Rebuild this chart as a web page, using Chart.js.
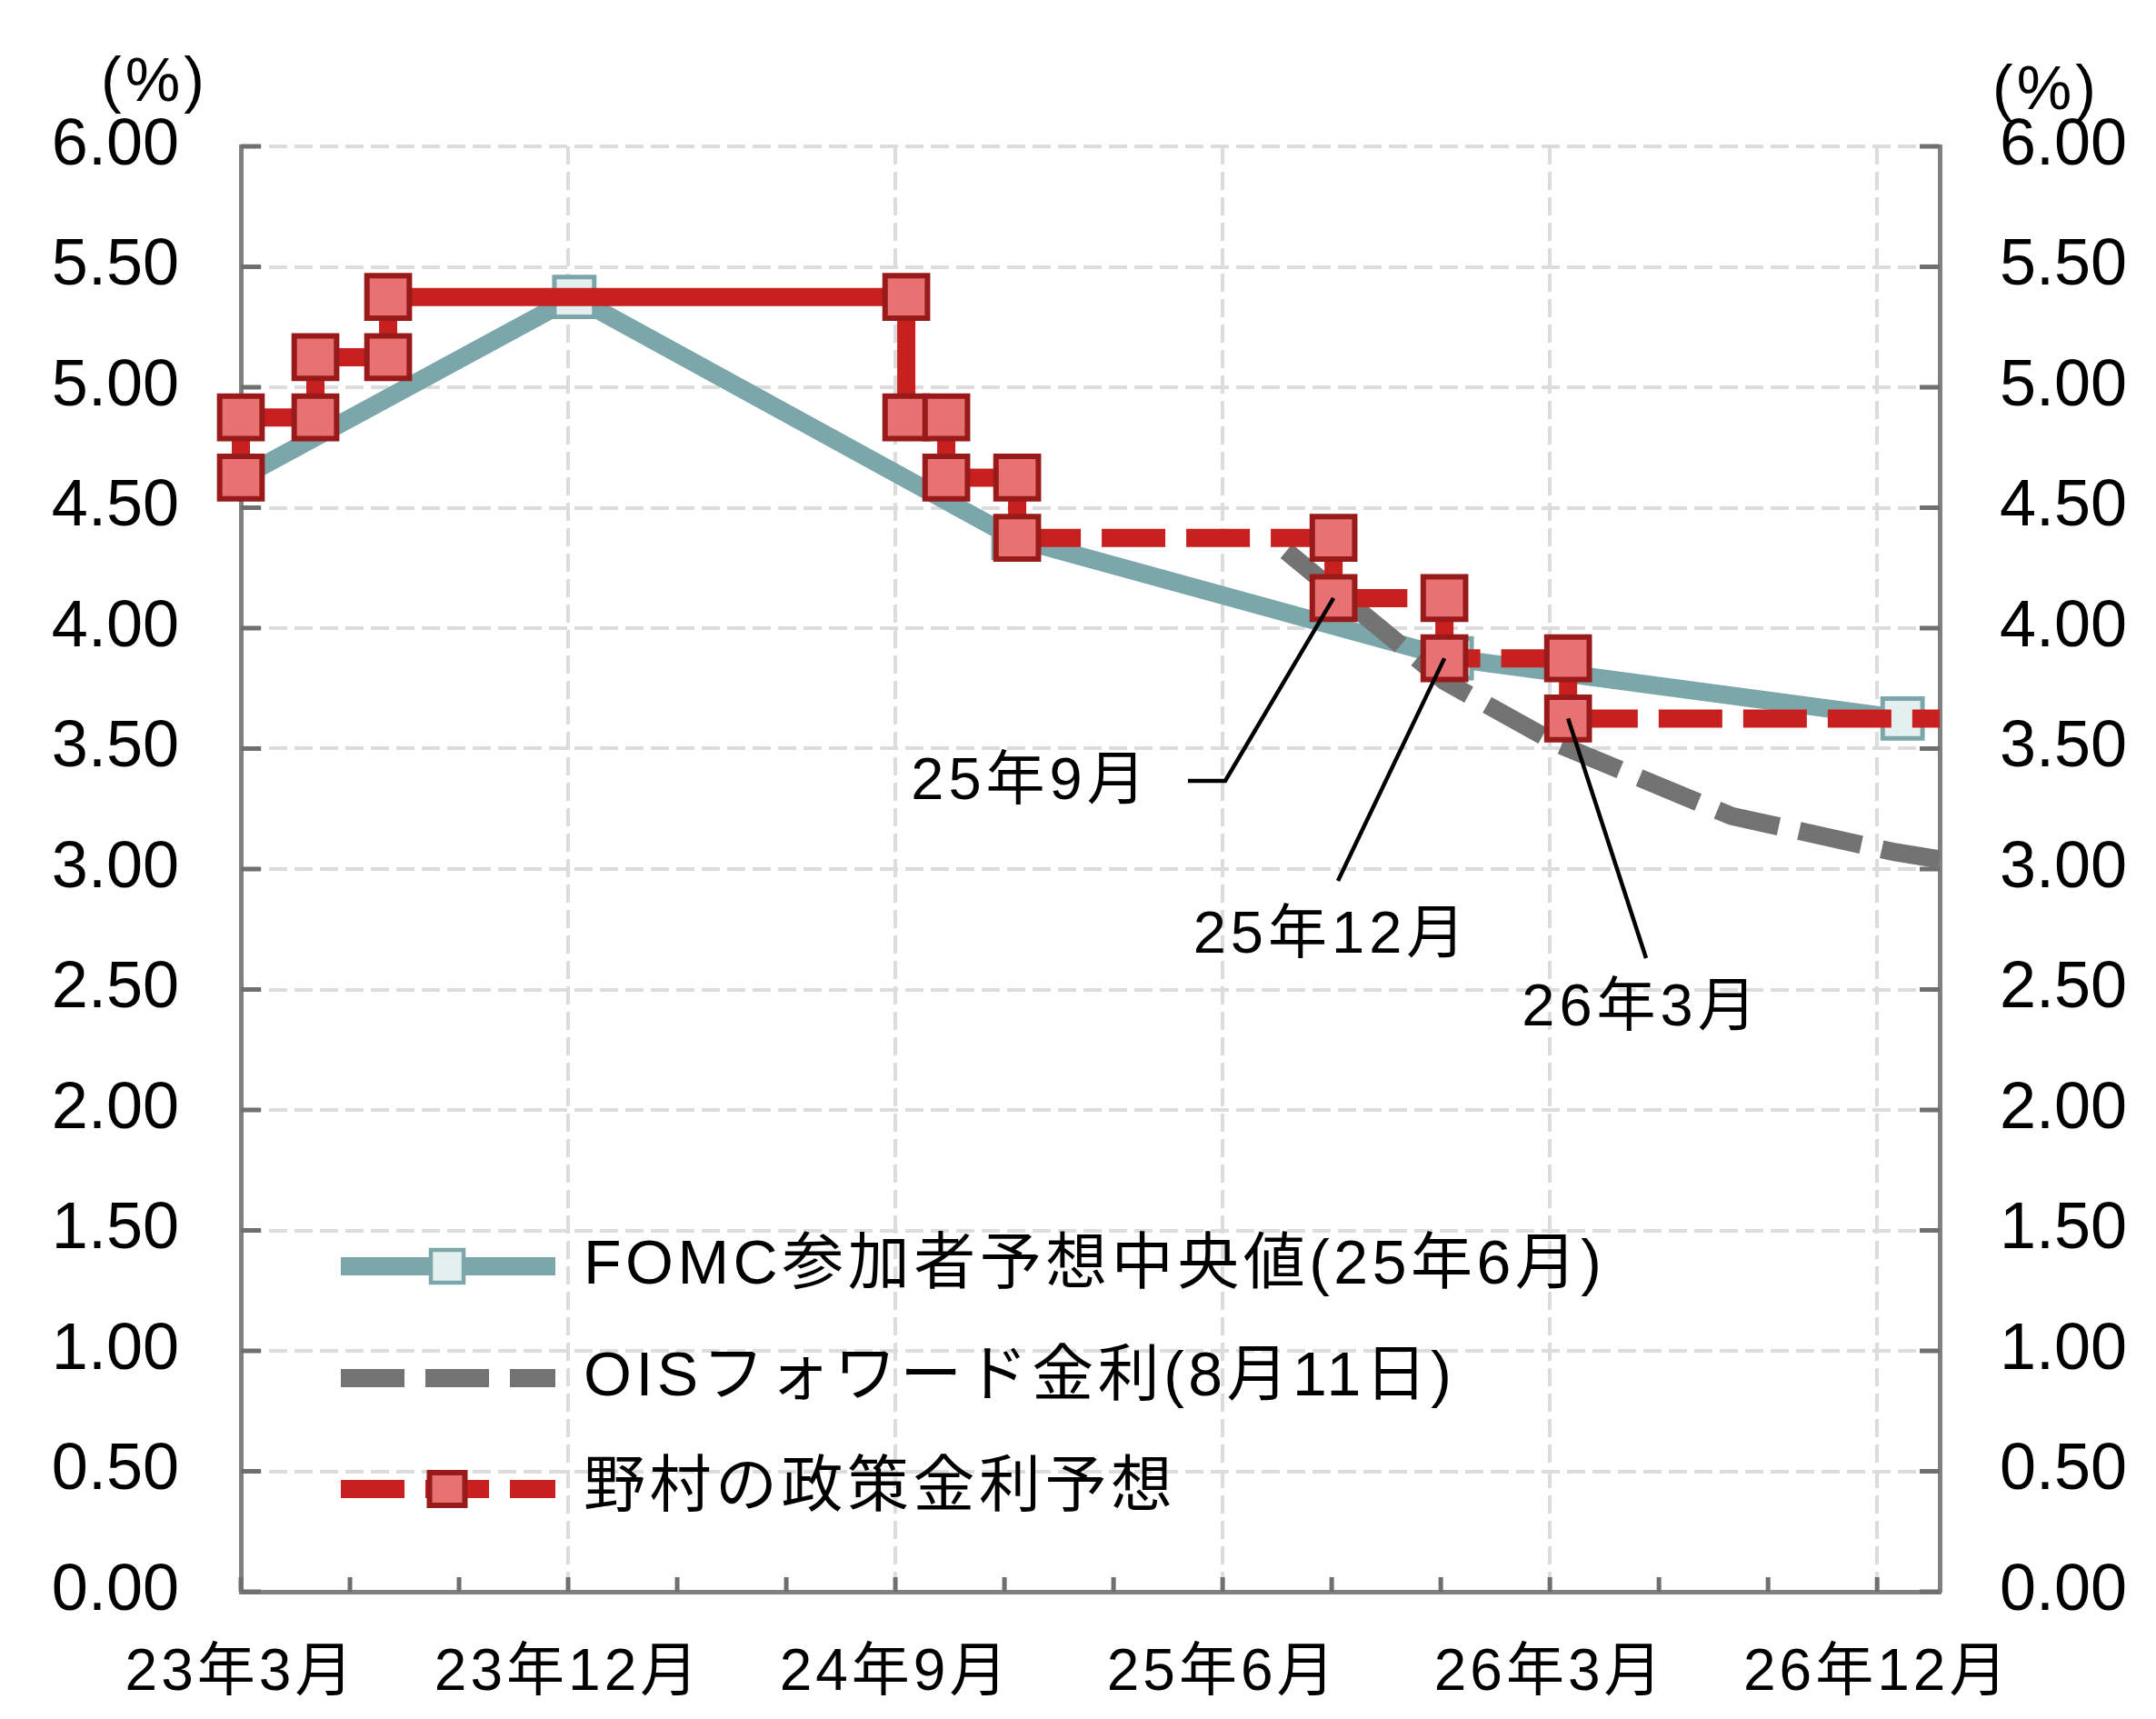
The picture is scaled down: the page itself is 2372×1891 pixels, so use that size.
<!DOCTYPE html>
<html lang="ja">
<head>
<meta charset="utf-8">
<title>FF金利の見通し</title>
<script src="https://cdn.jsdelivr.net/npm/chart.js@4/dist/chart.umd.min.js"></script>
<style>
  html, body { margin: 0; padding: 0; background: #fff; }
  #wrap { width: 2372px; height: 1891px; }
</style>
</head>
<body>
<div id="wrap"><canvas id="rateChart" width="2372" height="1891"></canvas></div>
<script>
// 横軸は 23年3月 = 0 とした月数
const xTickLabels = ["23年3月", "23年12月", "24年9月", "25年6月", "26年3月", "26年12月"];
const xMax = 46.72;

const fomcLabel = "FOMC参加者予想中央値(25年6月)";
const fomcX = [0, 9.17, 21.25, 33.3, 45.7];
const fomcY = [4.625, 5.375, 4.375, 3.875, 3.625];

const oisLabel = "OISフォワード金利(8月11日)";
const oisX = [28.75, 33.1, 36.2, 41.0, 45.5, 46.72];
const oisY = [4.32, 3.78, 3.52, 3.22, 3.07, 3.04];

const nomuraLabel = "野村の政策金利予想";
const nomuraX = [0, 0, 2.05, 2.05, 4.05, 4.05, 18.3, 18.3, 19.4, 19.4, 21.35, 21.35,
                 30.05, 30.05, 33.1, 33.1, 36.5, 36.5, 46.72];
const nomuraY = [4.625, 4.875, 4.875, 5.125, 5.125, 5.375, 5.375, 4.875, 4.875, 4.625, 4.625, 4.375,
                 4.375, 4.125, 4.125, 3.875, 3.875, 3.625, 3.625];
const nomuraForecastFrom = 11; // ここから先は予想 (破線)

// 吹き出し
const calloutLabels = ["25年9月", "25年12月", "26年3月"];
const calloutIndex = [13, 15, 17];

const FONT = "'Liberation Sans', 'Noto Sans CJK JP', sans-serif";
const TEAL = "#7ba6aa";
const RED = "#c8201f";
const GRAY = "#737373";
const DASH = [70, 23];

function toPoints(xs, ys) {
    return xs.map((x, i) => ({ x: x, y: ys[i] }));
}

// 軸の内向き目盛り、単位、凡例、吹き出し
const overlay = {
    id: "overlay",
    beforeDraw(chart) {
        chart.ctx.letterSpacing = "0px";
    },
    beforeDatasetsDraw(chart) {
        const ctx = chart.ctx;
        const a = chart.chartArea;
        const sx = chart.scales.x, sy = chart.scales.y;
        ctx.save();
        ctx.strokeStyle = "#6f6f6f";
        ctx.lineWidth = 5;
        ctx.beginPath();
        sy.ticks.forEach(t => {
            const y = sy.getPixelForValue(t.value);
            ctx.moveTo(a.left, y); ctx.lineTo(a.left + 22, y);
            ctx.moveTo(a.right, y); ctx.lineTo(a.right - 22, y);
        });
        sx.ticks.forEach(t => {
            const x = sx.getPixelForValue(t.value);
            ctx.moveTo(x, a.bottom); ctx.lineTo(x, a.bottom - 16);
        });
        ctx.stroke();
        ctx.restore();
    },
    afterDatasetsDraw(chart) {
        // x軸の目盛り文字 (ticks.z = 1) に字間をつける
        chart.ctx.letterSpacing = "4px";
    },
    afterDraw(chart) {
        const ctx = chart.ctx;
        const sx = chart.scales.x, sy = chart.scales.y;
        ctx.save();
        ctx.letterSpacing = "4px";
        ctx.fillStyle = "#000";
        ctx.textAlign = "center";
        ctx.textBaseline = "middle";

        // 単位
        ctx.font = "68px " + FONT;
        ctx.fillText("(%)", 170, 92);
        ctx.fillText("(%)", 2251, 101);

        // 凡例
        const rows = [1393, 1516, 1638];
        chart.data.datasets.forEach((ds, i) => {
            const y = rows[i];
            ctx.save();
            ctx.lineWidth = ds.borderWidth;
            ctx.strokeStyle = ds.borderColor;
            ctx.lineCap = "butt";
            ctx.setLineDash(ds.legendDash);
            ctx.beginPath();
            ctx.moveTo(375, y); ctx.lineTo(611, y);
            ctx.stroke();
            ctx.setLineDash([]);
            if (ds.legendMarker) {
                const s = ds.legendMarker;
                ctx.fillStyle = ds.pointBackgroundColor;
                ctx.strokeStyle = ds.pointBorderColor;
                ctx.lineWidth = s.border;
                ctx.beginPath();
                ctx.rect(492 - s.w / 2, y - s.h / 2, s.w, s.h);
                ctx.fill();
                ctx.stroke();
            }
            ctx.restore();
            ctx.textAlign = "left";
            ctx.letterSpacing = "4.5px";
            ctx.font = "68px " + FONT;
            ctx.fillText(ds.label, 642, y);
        });

        // 吹き出し
        const textPos = [[1134, 861], [1465, 1030], [1806, 1110]];
        const leaders = [[[1307, 859], [1348, 859]], [[1472, 969]], [[1811, 1054]]];
        ctx.strokeStyle = "#000";
        ctx.lineWidth = 4.5;
        ctx.letterSpacing = "5px";
        calloutIndex.forEach((idx, i) => {
            const mx = sx.getPixelForValue(nomuraX[idx]);
            const my = sy.getPixelForValue(nomuraY[idx]);
            const pts = leaders[i];
            ctx.beginPath();
            ctx.moveTo(pts[0][0], pts[0][1]);
            for (let k = 1; k < pts.length; k++) ctx.lineTo(pts[k][0], pts[k][1]);
            ctx.lineTo(mx, my);
            ctx.stroke();
            ctx.textAlign = "center";
            ctx.font = "65px " + FONT;
            ctx.fillText(calloutLabels[i], textPos[i][0], textPos[i][1]);
        });
        ctx.restore();
        ctx.letterSpacing = "0px";
    }
};

const ctx = document.getElementById("rateChart").getContext("2d");
const chart = new Chart(ctx, {
    type: "line",
    data: {
        datasets: [
            {
                label: fomcLabel,
                data: toPoints(fomcX, fomcY),
                borderColor: TEAL,
                borderWidth: 20,
                pointStyle: "rect",
                pointRadius: 31,
                pointBorderWidth: 5,
                pointBackgroundColor: "#e4efef",
                pointBorderColor: TEAL,
                legendDash: [],
                legendMarker: { w: 36, h: 36, border: 4.5 },
                clip: false,
                order: 3
            },
            {
                label: oisLabel,
                data: toPoints(oisX, oisY),
                borderColor: GRAY,
                borderWidth: 20,
                borderDash: DASH,
                borderCapStyle: "butt",
                pointRadius: 0,
                legendDash: DASH,
                legendMarker: null,
                order: 2
            },
            {
                label: nomuraLabel,
                data: toPoints(nomuraX, nomuraY),
                borderColor: RED,
                borderWidth: 20,
                borderCapStyle: "butt",
                segment: {
                    borderDash: c => c.p0DataIndex >= nomuraForecastFrom ? DASH : undefined
                },
                pointStyle: "rect",
                pointRadius: c => c.dataIndex === nomuraX.length - 1 ? 0 : 33,
                pointBorderWidth: 6,
                pointBackgroundColor: "#e87171",
                pointBorderColor: "#981a1a",
                legendDash: DASH,
                legendMarker: { w: 39, h: 36, border: 6 },
                clip: false,
                order: 1
            }
        ]
    },
    options: {
        responsive: false,
        devicePixelRatio: 1,
        animation: false,
        events: [],
        layout: { padding: { top: 161, left: 0, right: 0, bottom: 0 } },
        plugins: { legend: { display: false }, tooltip: { enabled: false } },
        elements: { line: { tension: 0 } },
        scales: {
            x: {
                type: "linear",
                min: 0,
                max: xMax,
                afterBuildTicks: s => {
                    const t = [];
                    for (let v = 0; v <= 45; v += 3) t.push({ value: v });
                    s.ticks = t;
                },
                afterFit: s => { s.height = 140; },
                grid: {
                    color: c => (c.tick && c.tick.value % 9 === 0) ? "#dcdcdc" : "transparent",
                    lineWidth: 4,
                    drawTicks: false
                },
                border: { display: true, color: "#808080", width: 5, dash: [20, 8] },
                ticks: {
                    z: 1,
                    autoSkip: false,
                    maxRotation: 0,
                    padding: 52,
                    color: "#000",
                    font: { family: FONT, size: 64 },
                    callback: v => v % 9 === 0 ? xTickLabels[v / 9] : ""
                }
            },
            y: {
                position: "left",
                min: 0,
                max: 6,
                afterFit: s => { s.width = 265; },
                grid: { color: "#dcdcdc", lineWidth: 4, drawTicks: false },
                border: { display: true, color: "#808080", width: 5, dash: [20, 8] },
                ticks: {
                    stepSize: 0.5,
                    padding: 68,
                    color: "#000",
                    font: { family: FONT, size: 72 },
                    callback: v => v.toFixed(2)
                }
            },
            y2: {
                position: "right",
                min: 0,
                max: 6,
                afterFit: s => { s.width = 238; },
                grid: { drawOnChartArea: false, drawTicks: false },
                border: { display: true, color: "#808080", width: 5 },
                ticks: {
                    stepSize: 0.5,
                    padding: 66,
                    color: "#000",
                    font: { family: FONT, size: 72 },
                    callback: v => v.toFixed(2)
                }
            }
        }
    },
    plugins: [overlay]
});
</script>
</body>
</html>
